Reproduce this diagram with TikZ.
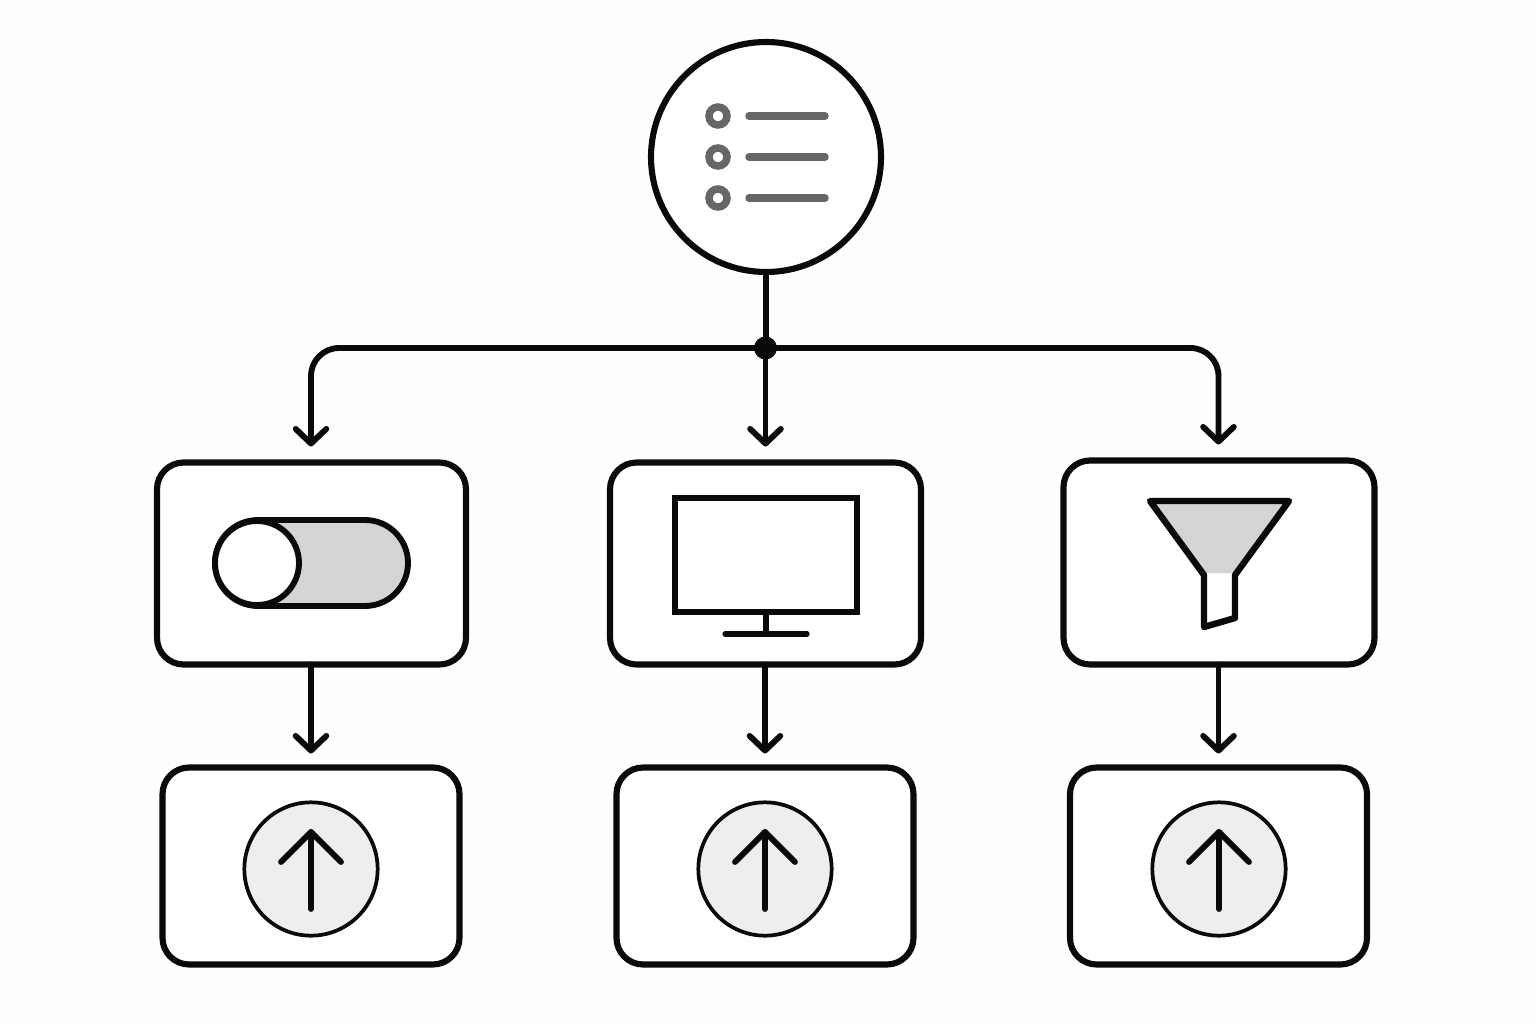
\documentclass[tikz,border=0pt]{standalone}
\usetikzlibrary{arrows.meta}
\definecolor{ink}{HTML}{0A0A0A}
\definecolor{greyfill}{HTML}{D4D4D4}
\definecolor{palefill}{HTML}{EEEEEF}
\definecolor{listgrey}{HTML}{666666}
\tikzset{
  x=0.75pt,y=-0.75pt,
  panel/.style={draw=ink,line width=4.6pt,rounded corners=20pt,fill=white,inner sep=0pt,outer sep=0pt},
  conn/.style={draw=ink,line width=4.4pt,line cap=round,line join=round,
    -{Straight Barb[length=11pt,width=23pt,round]}},
  trunk/.style={draw=ink,line width=4.4pt},
  icon/.style={draw=ink,line width=4.4pt,line join=round,line cap=round},
  upbadge/.style={circle,draw=ink,line width=2.8pt,fill=palefill,minimum size=100pt,inner sep=0pt,outer sep=0pt},
  uparrow/.style={draw=ink,line width=4.4pt,line cap=round,line join=round},
  listdot/.style={circle,draw=listgrey,line width=5.6pt,fill=white,minimum size=13.5pt,inner sep=0pt,outer sep=0pt},
  listbar/.style={draw=listgrey,line width=5.6pt,line cap=round},
}
\begin{document}
\begin{tikzpicture}
\useasboundingbox (0,0) rectangle (1536,1024);
\fill[white!99.5!black] (0,0) rectangle (1536,1024);

% root circle
\node[circle,draw=ink,line width=4.6pt,fill=white,minimum size=172.5pt,inner sep=0pt,outer sep=0pt] (root) at (766,157) {};
\node[listdot] (d1) at (718,116) {};
\node[listdot] (d2) at (718,157) {};
\node[listdot] (d3) at (718,198) {};
\coordinate (b1a) at (749,116); \coordinate (b1b) at (825,116);
\coordinate (b2a) at (749,157); \coordinate (b2b) at (825,157);
\coordinate (b3a) at (749,198); \coordinate (b3b) at (825,198);
\draw[listbar] (b1a) -- (b1b);
\draw[listbar] (b2a) -- (b2b);
\draw[listbar] (b3a) -- (b3b);

% boxes
\node[panel,minimum width=231.75pt,minimum height=151.5pt] (ba) at (311.5,563.5) {};
\node[panel,minimum width=233.25pt,minimum height=151.5pt] (bb) at (765.5,563.5) {};
\node[panel,minimum width=233.25pt,minimum height=153pt] (bc) at (1219,562.5) {};
\node[panel,minimum width=222.75pt,minimum height=147.75pt] (ca) at (311,866) {};
\node[panel,minimum width=222.75pt,minimum height=147.75pt] (cb) at (765,866) {};
\node[panel,minimum width=222.75pt,minimum height=147.75pt] (cc) at (1218.5,866) {};

% connectors
\node[circle,fill=ink,minimum size=17pt,inner sep=0pt,outer sep=0pt] (hub) at (765.5,348) {};
\draw[trunk] (root.south) -- (root.south |- hub);
\draw[conn,rounded corners=21pt,shorten >=12pt] (hub.center) -| (ca.north |- ba.north);
\draw[conn,shorten >=12pt] (hub.center) -- (hub.center |- bb.north);
\draw[conn,rounded corners=21pt,shorten >=12pt] (hub.center) -| (cc.north |- bc.north);
\draw[conn,shorten >=10.5pt] (ca.north |- ba.south) -- (ca.north);
\draw[conn,shorten >=10.5pt] (cb.north |- bb.south) -- (cb.north);
\draw[conn,shorten >=10.5pt] (cc.north |- bc.south) -- (cc.north);
\node[circle,fill=ink,minimum size=17pt,inner sep=0pt,outer sep=0pt] (hubtop) at (hub) {};

% toggle
\draw[icon,fill=greyfill,rounded corners=32.25pt] (215,520) rectangle (408,606);
\node[circle,draw=ink,line width=4.4pt,fill=white,minimum size=63pt,inner sep=0pt,outer sep=0pt] (knob) at (257,563) {};

% monitor
\draw[icon,line width=4pt,line cap=butt,line join=miter,fill=white] (675,498) rectangle (857,612);
\coordinate (st) at (766,612); \coordinate (sb) at (766,634);
\draw[icon,line width=4pt] (st) -- (sb);
\draw[icon,line width=4pt] (725,634) -- (807,634);

% funnel
\fill[greyfill] (1150,501) -- (1289,501) -- (1235,573) -- (1204,573) -- cycle;
\draw[icon,line width=4.8pt] (1150,501) -- (1289,501) -- (1235,575) -- (1235,618) -- (1204,627) -- (1204,575) -- cycle;

% upload badges
\foreach \n/\cx in {ua/311,ub/765,uc/1219}{
  \node[upbadge] (\n) at (\cx,869) {};
  \draw[uparrow] (\cx,909) -- (\cx,832);
  \draw[uparrow] (\cx-30,862) -- (\cx,832) -- (\cx+30,862);
}
\end{tikzpicture}
\end{document}
